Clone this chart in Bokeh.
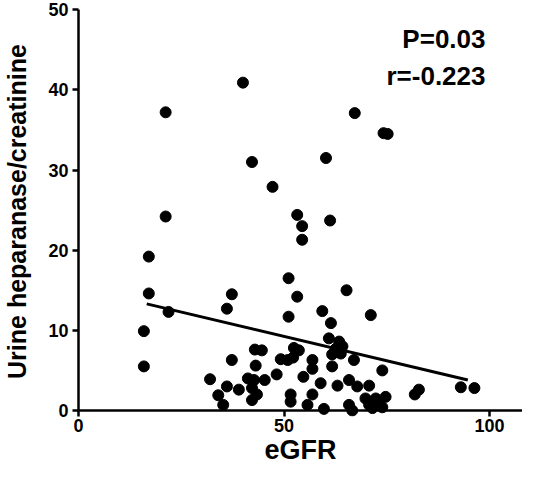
from bokeh.plotting import figure
from bokeh.models import Range1d, Label, FixedTicker, ColumnDataSource, Span
from bokeh.embed import file_html
from bokeh.resources import INLINE

# eGFR (x) and urine heparanase/creatinine (y)
egfr = [21.2, 40.0, 42.2, 21.2, 67.2, 74.2, 75.2, 60.2, 47.2, 53.2,
        54.4, 61.2, 54.4, 51.1, 53.2, 65.2, 59.3, 61.4, 71.1, 51.1,
        17.1, 17.1, 21.9, 15.9, 15.9, 37.3, 36.1, 37.3, 32.0, 36.1,
        34.0, 35.2, 39.0, 42.9, 44.6, 43.1, 41.2, 42.7, 42.2, 43.4,
        42.2, 45.3, 48.2, 49.2,
        50.9, 52.2, 52.4, 53.6, 60.9, 63.4, 62.6, 64.2, 63.8, 61.7,
        56.9, 67.0, 56.9, 61.7, 54.7, 73.9, 58.9, 65.8, 63.0, 67.8,
        70.7, 93.0, 96.3, 82.8, 81.8, 51.6, 51.6, 55.7, 56.9, 59.7,
        65.8, 66.6, 69.8, 70.7, 72.3, 73.1, 74.7, 73.9, 71.5]
ratio = [37.2, 40.9, 31.0, 24.2, 37.1, 34.6, 34.5, 31.5, 27.9, 24.4,
         23.0, 23.7, 21.3, 16.5, 14.2, 15.0, 12.4, 10.9, 11.9, 11.7,
         19.2, 14.6, 12.3, 9.9, 5.5, 14.5, 12.7, 6.3, 3.9, 3.0,
         1.9, 0.7, 2.6, 7.6, 7.5, 5.6, 4.0, 3.8, 2.8, 2.0,
         1.3, 3.8, 4.5, 6.4,
         6.3, 6.6, 7.8, 7.5, 9.0, 8.6, 7.7, 8.0, 7.1, 7.0,
         6.3, 6.3, 5.2, 5.5, 4.2, 5.0, 3.4, 3.8, 3.1, 3.0,
         3.1, 2.9, 2.8, 2.6, 2.0, 2.0, 1.1, 0.7, 2.0, 0.2,
         0.7, 0.0, 1.5, 0.7, 1.5, 0.7, 1.7, 0.4, 0.3]

# regression line end points
fit_x = [16.6, 94.7]
fit_y = [13.3, 3.8]

x_ticks = [0, 50, 100]
y_ticks = [0, 10, 20, 30, 40, 50]
stats = ["P=0.03", "r=-0.223"]

FONT = "Liberation Sans"

p = figure(width=522, height=470, output_backend="svg", toolbar_location=None,
           x_range=Range1d(0, 108.0), y_range=Range1d(-0.75, 50.4),
           min_border_left=74, min_border_right=0, min_border_top=6,
           min_border_bottom=54)
p.outline_line_color = None
p.grid.visible = False
p.background_fill_color = "white"
p.border_fill_color = "white"

src = ColumnDataSource(dict(x=egfr, y=ratio))
p.scatter("x", "y", source=src, size=11, color="black", line_color="black")
p.line(fit_x, fit_y, line_width=3, color="black")

# x axis line drawn at y = 0
p.add_layout(Span(location=0, dimension="width", line_color="black",
                  line_width=2.5))

for ax in (p.xaxis[0], p.yaxis[0]):
    ax.axis_line_width = 2.5
    ax.major_tick_line_width = 2.5
    ax.minor_tick_out = 0
    ax.minor_tick_in = 0
    ax.major_label_text_font = FONT
    ax.major_label_text_font_style = "bold"
    ax.major_label_text_font_size = "18px"
    ax.major_label_text_color = "black"
    ax.axis_label_text_font = FONT
    ax.axis_label_text_font_style = "bold"
    ax.axis_label_text_color = "black"

xa = p.xaxis[0]
xa.ticker = FixedTicker(ticks=x_ticks)
xa.axis_line_color = None
xa.major_tick_in = 6
xa.major_tick_out = 0
xa.major_label_standoff = 2
xa.axis_label = "eGFR"
xa.axis_label_text_font_size = "27px"
xa.axis_label_standoff = 0

ya = p.yaxis[0]
ya.ticker = FixedTicker(ticks=y_ticks)
ya.bounds = (0, 50)
ya.major_tick_out = 6
ya.major_tick_in = 0
ya.major_label_standoff = 4
ya.axis_label = "Urine heparanase/creatinine"
ya.axis_label_text_font_size = "25px"
ya.axis_label_standoff = 14

for txt, yy in zip(stats, [46.3, 41.7]):
    p.add_layout(Label(x=99.0, y=yy, text=txt, text_align="right",
                       text_baseline="middle", text_font=FONT,
                       text_font_style="bold", text_font_size="26px",
                       text_color="black"))

open("out.html", "w").write(file_html(p, INLINE))
